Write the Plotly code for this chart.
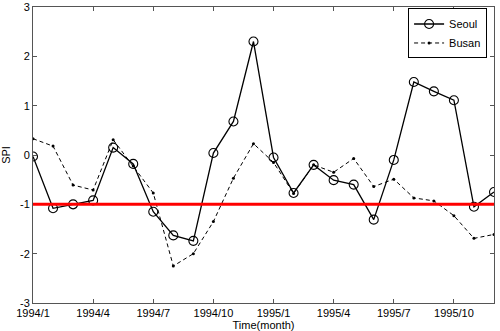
import plotly.graph_objects as go

months = ["1994/1", "1994/2", "1994/3", "1994/4", "1994/5", "1994/6",
          "1994/7", "1994/8", "1994/9", "1994/10", "1994/11", "1994/12",
          "1995/1", "1995/2", "1995/3", "1995/4", "1995/5", "1995/6",
          "1995/7", "1995/8", "1995/9", "1995/10", "1995/11", "1995/12"]
tick_labels = ["1994/1", "1994/4", "1994/7", "1994/10",
               "1995/1", "1995/4", "1995/7", "1995/10"]

seoul = [-0.03, -1.08, -1.00, -0.92, 0.15, -0.18, -1.15, -1.63, -1.74, 0.04,
         0.68, 2.30, -0.05, -0.77, -0.20, -0.51, -0.60, -1.31, -0.10, 1.48,
         1.29, 1.11, -1.05, -0.75]
busan = [0.33, 0.18, -0.61, -0.71, 0.31, -0.22, -0.77, -2.25, -2.00, -1.35,
         -0.47, 0.23, -0.15, -0.78, -0.20, -0.35, -0.07, -0.64, -0.49, -0.87,
         -0.93, -1.23, -1.69, -1.61]
y_ticks = [-3, -2, -1, 0, 1, 2, 3]
threshold = -1

font = "Liberation Sans, Arial, sans-serif"

fig = go.Figure()
fig.add_trace(go.Scatter(
    x=months, y=seoul, name="Seoul", mode="lines+markers",
    line=dict(color="black", width=1.3),
    marker=dict(symbol="circle-open", size=9, color="black", line=dict(width=1.1)),
))
fig.add_trace(go.Scatter(
    x=months, y=busan, name="Busan", mode="lines+markers",
    line=dict(color="black", width=1, dash="4px,3px"),
    marker=dict(symbol="circle", size=3, color="black"),
))
fig.add_shape(type="line", xref="paper", yref="y", x0=0, x1=1,
              y0=threshold, y1=threshold,
              line=dict(color="#ff0000", width=3), layer="above")

axis_common = dict(showline=True, linecolor="#555555", linewidth=1, mirror="ticks",
                   ticks="inside", ticklen=4, tickcolor="#555555", showgrid=False,
                   zeroline=False, automargin=False, ticklabeloverflow="allow",
                   tickfont=dict(family=font, size=11, color="black"))

fig.update_layout(
    width=500, height=331,
    margin=dict(l=33, r=6, t=7, b=28),
    paper_bgcolor="white", plot_bgcolor="white",
    font=dict(family=font, size=11, color="black"),
    showlegend=True,
    legend=dict(x=0.985, y=0.995, xanchor="right", yanchor="top",
                bordercolor="black", borderwidth=1, bgcolor="white",
                font=dict(family=font, size=11), tracegroupgap=0,
                itemwidth=30),
    xaxis=dict(type="category", categoryorder="array", categoryarray=months,
               range=[0, 23], tickmode="array", tickvals=tick_labels,
               ticktext=tick_labels, ticklabelstandoff=0,
               title=dict(text="Time(month)", standoff=0,
                          font=dict(family=font, size=11)),
               **axis_common),
    yaxis=dict(range=[-3, 3], tickmode="array", tickvals=y_ticks,
               ticktext=[str(v) for v in y_ticks],
               title=dict(text="SPI", standoff=14, font=dict(family=font, size=11)),
               **axis_common),
)

fig.write_html("out.html", config={"displayModeBar": False},
               post_script="document.body.style.margin='0px';document.body.style.overflow='hidden';")
